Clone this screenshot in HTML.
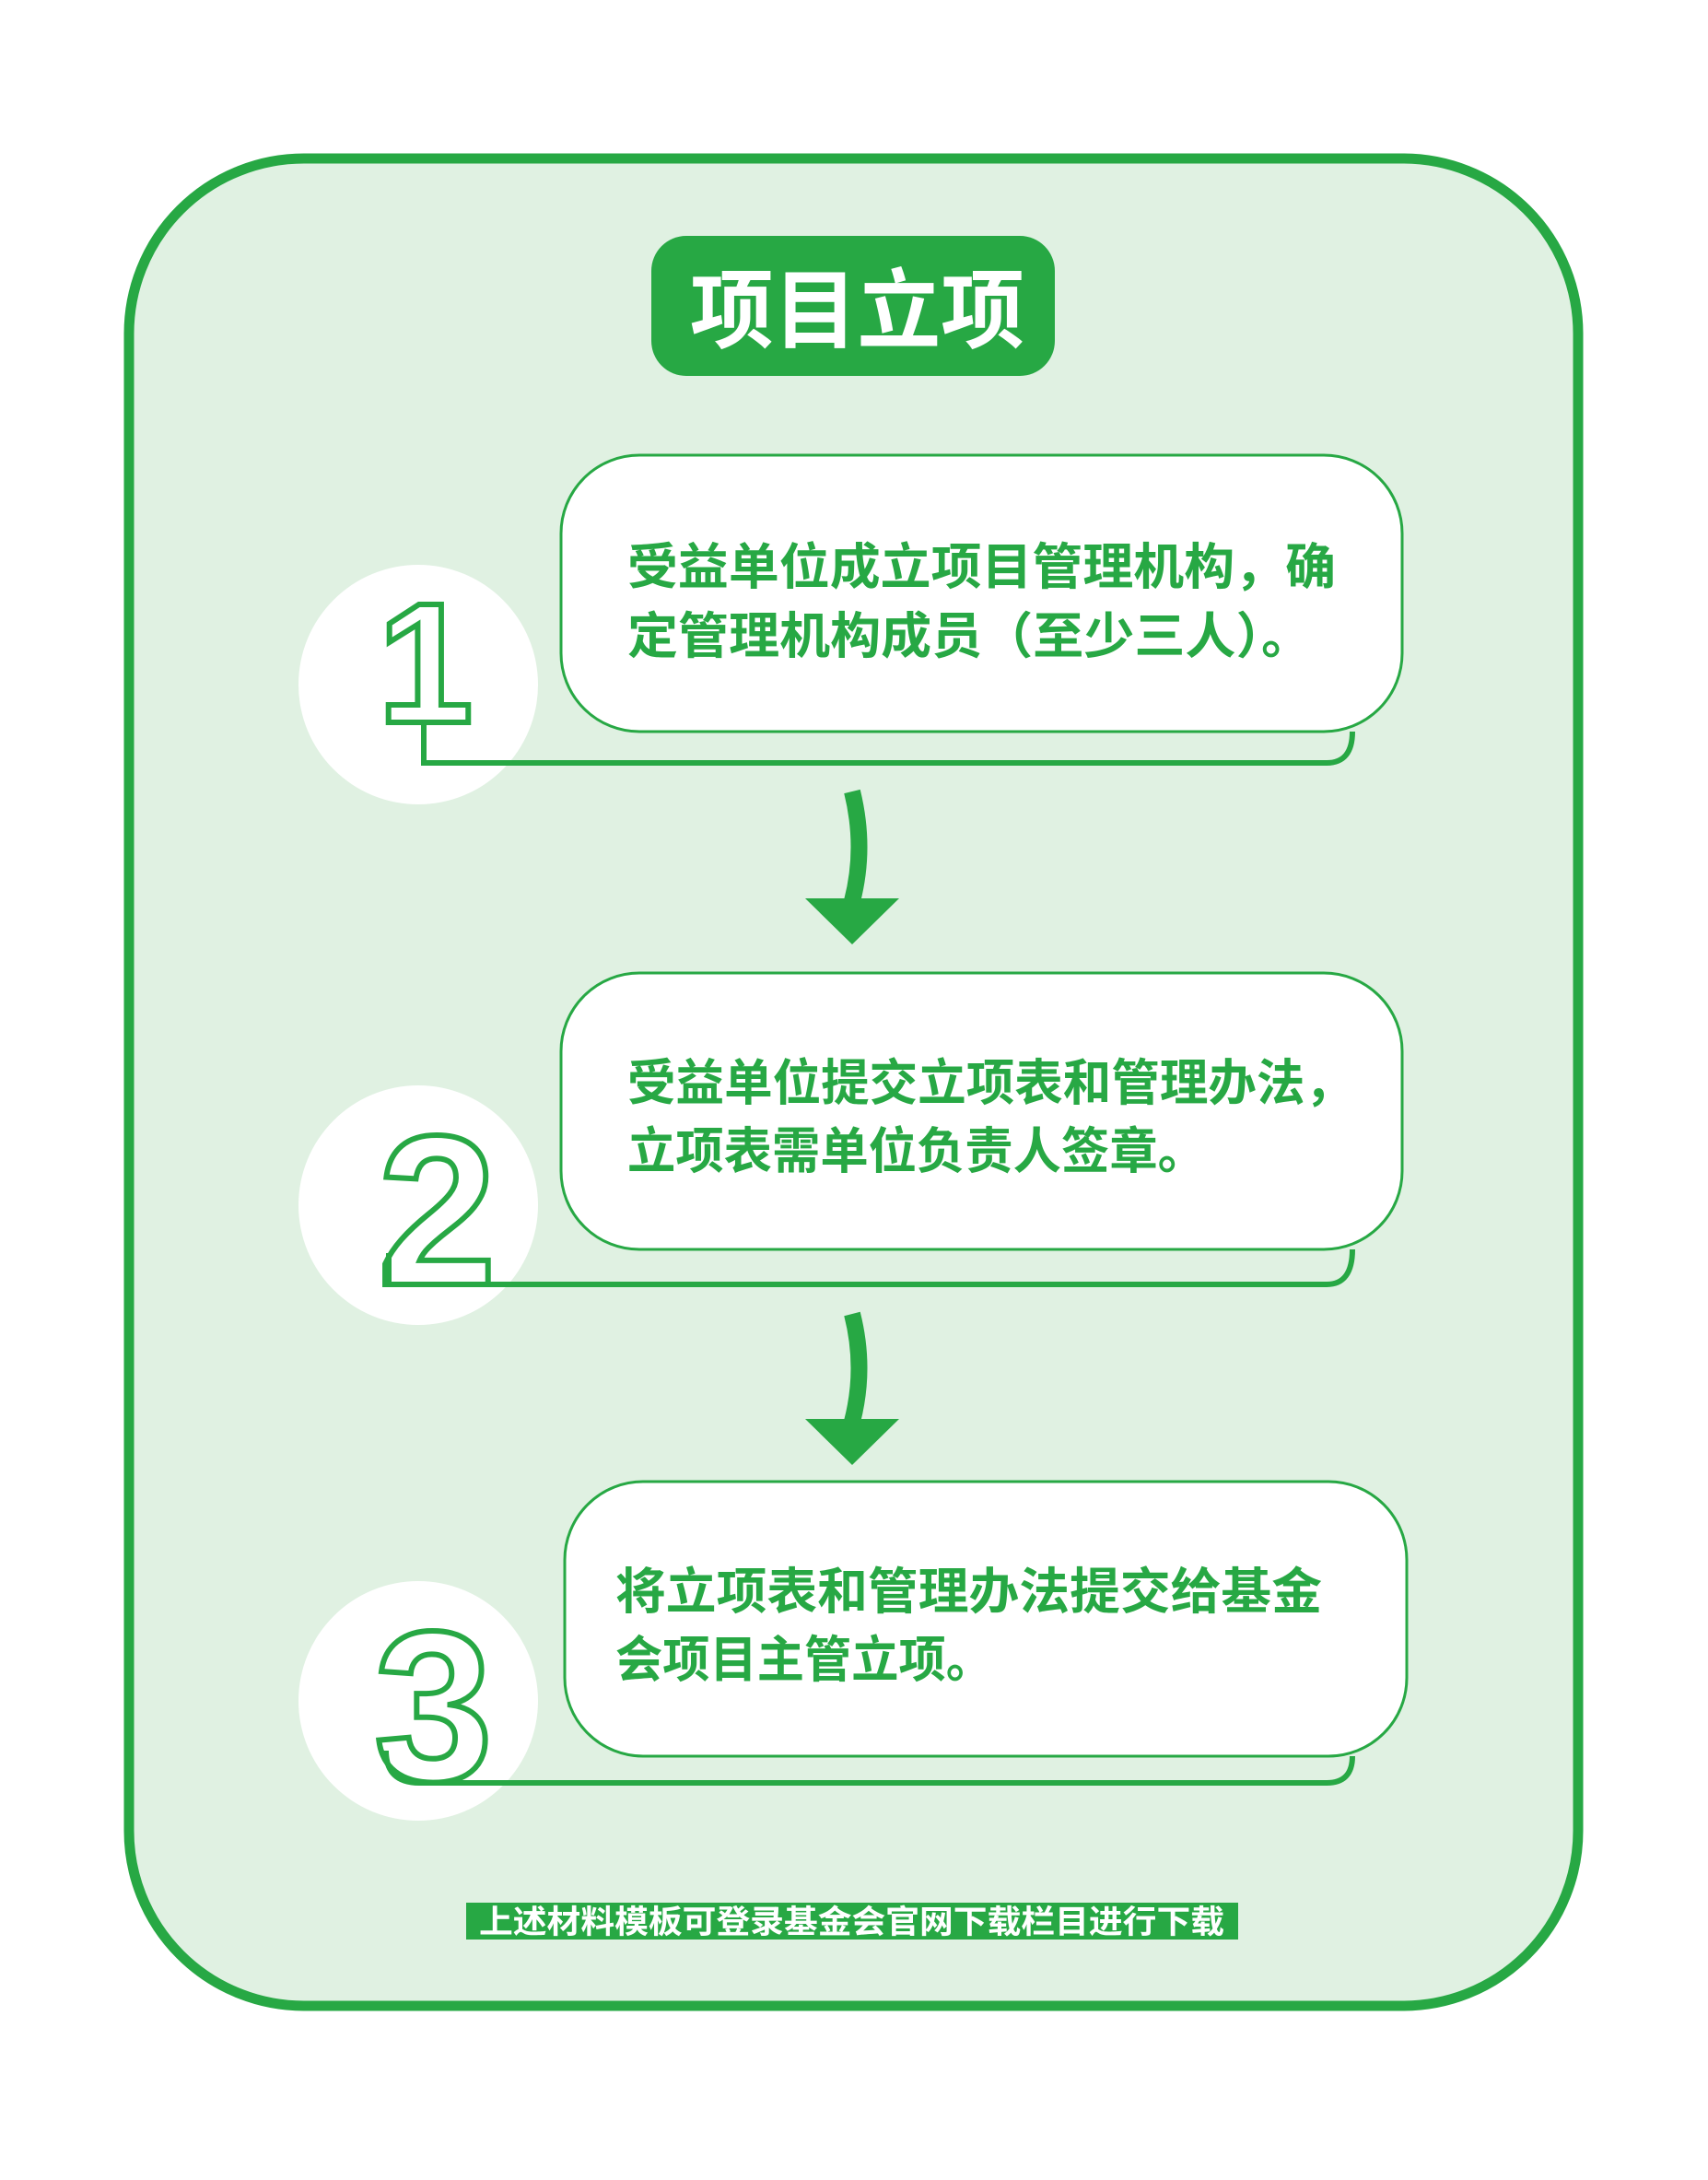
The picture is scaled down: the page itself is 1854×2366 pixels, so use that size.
<!DOCTYPE html>
<html><head><meta charset="utf-8"><style>
html,body{margin:0;padding:0;background:#fff;}
svg{display:block;}
text{font-family:"Liberation Sans","Noto Sans CJK SC",sans-serif;font-weight:bold;}
</style></head><body>
<svg width="1854" height="2366" viewBox="0 0 1854 2366" xmlns="http://www.w3.org/2000/svg">
<rect x="0" y="0" width="1854" height="2366" fill="#fff"/>
<rect x="140" y="172" width="1573" height="2005" rx="190" ry="190" fill="#e0f1e2" stroke="#27a844" stroke-width="11"/>
<rect x="707" y="256" width="438" height="152" rx="38" fill="#27a844"/>
<text x="749" y="370" font-size="94" fill="#fff" textLength="363" lengthAdjust="spacingAndGlyphs">项目立项</text>

<!-- step 1 -->
<circle cx="454" cy="743" r="130" fill="#fff"/>
<path d="M460 784 L460 828 L1440 828 Q1468 828 1468 794" fill="none" stroke="#27a844" stroke-width="6"/>
<rect x="609" y="494" width="913" height="300" rx="85" fill="#fff" stroke="#27a844" stroke-width="3"/>
<text x="410" y="784" font-size="186" font-weight="normal" fill="none" stroke="#27a844" stroke-width="6">1</text>
<text x="681" y="634" font-size="54" fill="#27a844" textLength="769" lengthAdjust="spacingAndGlyphs">受益单位成立项目管理机构，确</text>
<text x="681" y="709" font-size="54" fill="#27a844" textLength="743" lengthAdjust="spacingAndGlyphs">定管理机构成员（至少三人）。</text>

<!-- arrow 1 -->
<path d="M925 859 Q940 920 925 978" fill="none" stroke="#27a844" stroke-width="18"/>
<polygon points="874,975 976,975 925,1025" fill="#27a844"/>

<!-- step 2 -->
<circle cx="454" cy="1308" r="130" fill="#fff"/>
<path d="M422 1360 L422 1394 L1440 1394 Q1468 1394 1468 1356" fill="none" stroke="#27a844" stroke-width="6"/>
<rect x="609" y="1056" width="913" height="300" rx="85" fill="#fff" stroke="#27a844" stroke-width="3"/>
<text x="410" y="1394" font-size="232" font-weight="normal" fill="none" stroke="#27a844" stroke-width="6">2</text>
<text x="681" y="1194" font-size="54" fill="#27a844" textLength="788" lengthAdjust="spacingAndGlyphs">受益单位提交立项表和管理办法，</text>
<text x="681" y="1268" font-size="54" fill="#27a844" textLength="628" lengthAdjust="spacingAndGlyphs">立项表需单位负责人签章。</text>

<!-- arrow 2 -->
<path d="M925 1426 Q940 1485 925 1543" fill="none" stroke="#27a844" stroke-width="18"/>
<polygon points="874,1540 976,1540 925,1590" fill="#27a844"/>

<!-- step 3 -->
<circle cx="454" cy="1846" r="130" fill="#fff"/>
<path d="M419 1900 Q419 1935 455 1935 L1440 1935 Q1468 1935 1468 1906" fill="none" stroke="#27a844" stroke-width="6"/>
<rect x="613" y="1608" width="914" height="298" rx="85" fill="#fff" stroke="#27a844" stroke-width="3"/>
<text x="406" y="1932" font-size="232" font-weight="normal" fill="none" stroke="#27a844" stroke-width="6">3</text>
<text x="668" y="1746" font-size="54" fill="#27a844" textLength="767" lengthAdjust="spacingAndGlyphs">将立项表和管理办法提交给基金</text>
<text x="668" y="1820" font-size="54" fill="#27a844" textLength="410" lengthAdjust="spacingAndGlyphs">会项目主管立项。</text>

<!-- footer -->
<rect x="506" y="2065" width="838" height="40" fill="#27a844"/>
<text x="520" y="2098" font-size="35" fill="#fff" textLength="809" lengthAdjust="spacingAndGlyphs">上述材料模板可登录基金会官网下载栏目进行下载</text>
</svg>
</body></html>
